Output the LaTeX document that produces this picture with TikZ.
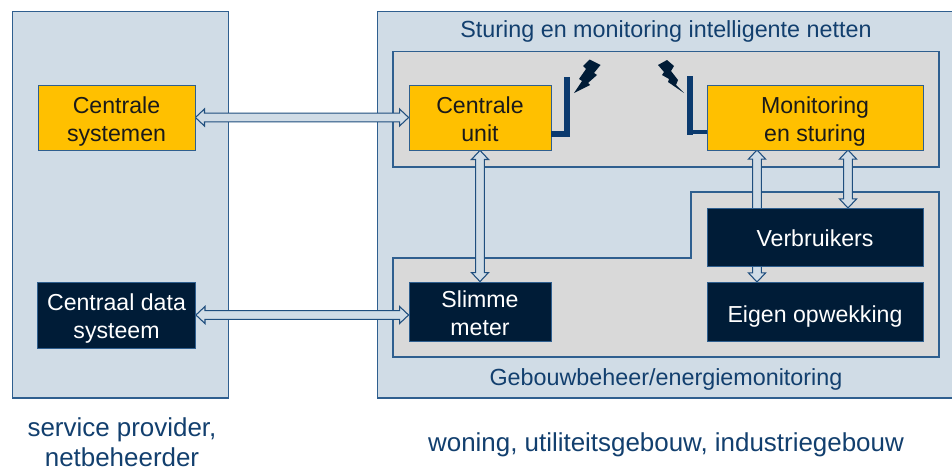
\documentclass[tikz,border=0pt]{standalone}
\usepackage{fontspec}
\setmainfont{Liberation Sans}
\usetikzlibrary{calc}
\pgfdeclarelayer{back}
\pgfdeclarelayer{conn}
\pgfsetlayers{back,conn,main}
\definecolor{panelblue}{HTML}{D0DCE6}
\definecolor{panelgray}{HTML}{D9D9D9}
\definecolor{edgeblue}{HTML}{2F5F8F}
\definecolor{arrowedge}{HTML}{1F4E7E}
\definecolor{amber}{HTML}{FFC000}
\definecolor{navy}{HTML}{001C37}
\definecolor{antenna}{HTML}{0B3A6E}
\definecolor{labelblue}{HTML}{123F6E}
\definecolor{ink}{HTML}{1A1A1A}
% strut on a first line: pushes the text of a centred box down by #1 px
\newcommand{\dn}[1]{\rule{0pt}{\dimexpr12.6pt+#1\dimexpr1.5pt\relax\relax}}
\tikzset{
  x=.75pt,y=-.75pt,
  panel/.style={draw=edgeblue,line width=.8pt,fill=panelblue},
  graypanel/.style={draw=edgeblue,line width=.8pt,fill=panelgray},
  unitbox/.style={draw=edgeblue,line width=.6pt,inner sep=0pt,align=center,font=\fontsize{17.35}{21}\selectfont},
  ambbox/.style={unitbox,fill=amber,text=ink},
  navybox/.style={unitbox,fill=navy,text=white},
  caption/.style={text=labelblue,align=center,inner sep=0pt,font=\fontsize{17.5}{22}\selectfont},
  bigcaption/.style={caption,font=\fontsize{19.45}{22.5}\selectfont},
  bolt/.style={fill=navy,draw=none},
  mast/.style={draw=antenna,line join=miter},
  hconn/.style={draw=arrowedge,line width=.8pt,fill=panelblue,line join=miter,
    to path={let \p1=(\tikztostart),\p2=(\tikztotarget) in
      (\x1,\y1) -- ({\x1+6.8pt},{\y1+6.4pt}) -- ({\x1+6.8pt},{\y1+3.3pt}) -- ({\x2-6.8pt},{\y2+3.3pt})
      -- ({\x2-6.8pt},{\y2+6.4pt}) -- (\x2,\y2) -- ({\x2-6.8pt},{\y2-6.4pt}) -- ({\x2-6.8pt},{\y2-3.3pt})
      -- ({\x1+6.8pt},{\y1-3.3pt}) -- ({\x1+6.8pt},{\y1-6.4pt}) -- cycle}},
  vconn/.style={draw=arrowedge,line width=.8pt,fill=panelblue,line join=miter,
    to path={let \p1=(\tikztostart),\p2=(\tikztotarget) in
      (\x1,\y1) -- ({\x1+6.4pt},{\y1-6.8pt}) -- ({\x1+3.3pt},{\y1-6.8pt}) -- ({\x2+3.3pt},{\y2+6.8pt})
      -- ({\x2+6.4pt},{\y2+6.8pt}) -- (\x2,\y2) -- ({\x2-6.4pt},{\y2+6.8pt}) -- ({\x2-3.3pt},{\y2+6.8pt})
      -- ({\x1-3.3pt},{\y1-6.8pt}) -- ({\x1-6.4pt},{\y1-6.8pt}) -- cycle}},
}
\begin{document}
\begin{tikzpicture}
\useasboundingbox (0,0) rectangle (952,468);
\begin{pgfonlayer}{back}
  \path[panel] (12.5,11.5) rectangle (228.5,398);
  \path[panel] (377.5,11.5) -- (955,11.5) -- (955,398) -- (377.5,398) -- cycle;
  \path[graypanel] (393,51.5) rectangle (939,167);
  \path[graypanel] (393,258) -- (691,258) -- (691,192) -- (939,192) -- (939,357) -- (393,357) -- cycle;
\end{pgfonlayer}

\node[ambbox,minimum width=157*.75pt,minimum height=65*.75pt] (cs) at (116.5,117.5) {\dn{4}Centrale\\systemen};
\node[ambbox,minimum width=142*.75pt,minimum height=65*.75pt] (cu) at (480,117.5) {\dn{2}Centrale\\unit};
\node[ambbox,minimum width=216*.75pt,minimum height=65*.75pt] (mon) at (815,117.5) {\dn{4}Monitoring\\en sturing};
\node[navybox,minimum width=158*.75pt,minimum height=66*.75pt] (cd) at (116.5,315) {\dn{3}Centraal data\\systeem};
\node[navybox,minimum width=142*.75pt,minimum height=59*.75pt] (sm) at (480,311.5) {\dn{2}Slimme\\meter};
\node[navybox,minimum width=216*.75pt,minimum height=58*.75pt] (vb) at (815,237) {\dn{1}Verbruikers};
\node[navybox,minimum width=216*.75pt,minimum height=59*.75pt] (eo) at (815,311.5) {\dn{5}Eigen opwekking};

\coordinate (m1) at (757,150);
\coordinate (e1) at (757,282);
\coordinate (m2) at (848,150);
\coordinate (v2) at (848,208);

\begin{pgfonlayer}{conn}
  \draw[hconn] (cs.east) to (cu.west);
  \draw[hconn] (cd.east) to (sm.west |- cd.east);
  \draw[vconn] (cu.south) to (sm.north);
  \draw[vconn] (m1) to (e1);
  \draw[vconn] (m2) to (v2);
\end{pgfonlayer}

\coordinate (a1) at (567,77);
\coordinate (a2) at (690,76);
\draw[mast,line width=4.5pt] (a1) -- (a1 |- 0,134) -- (cu.east |- 0,134);
\draw[mast,line width=4.5pt] (a2) -- (a2 |- 0,135);
\draw[mast,line width=2.6pt] (688,132) -- (mon.west |- 0,132);
\path[bolt] (589.5,59.5) -- (600.5,65) -- (594,73) -- (597,75) -- (588,83) -- (590,85) -- (574,93) -- (582,81) -- (579,79) -- (586,69) -- (583,66) -- cycle;
\path[bolt] (667,60) -- (658,65) -- (664,72) -- (662,75) -- (669,79) -- (668,82) -- (684,93) -- (676,85) -- (678,80) -- (671,71) -- (674,66) -- cycle;

\node[caption] (t1) at (666,31) {Sturing en monitoring intelligente netten};
\node[caption] (t2) at (666,379) {Gebouwbeheer/energiemonitoring};
\node[bigcaption] (t3) at (122,442) {service provider,\\netbeheerder};
\node[bigcaption] (t4) at (666,445) {woning, utiliteitsgebouw, industriegebouw};
\end{tikzpicture}
\end{document}
